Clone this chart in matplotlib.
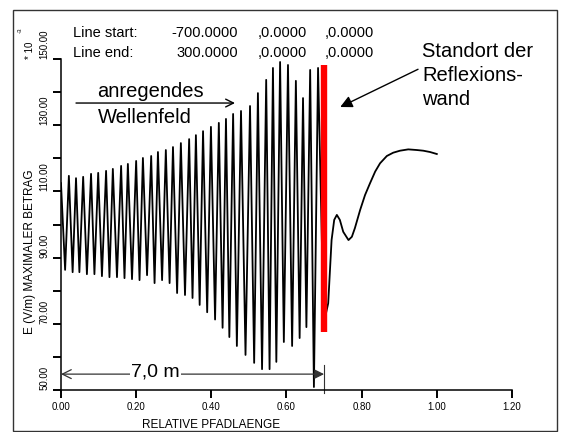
import matplotlib
matplotlib.use("Agg")
import matplotlib.pyplot as plt
from matplotlib.patches import Rectangle

plt.rcParams["font.family"] = ["Liberation Sans", "DejaVu Sans"]

# start of the wave train
start_x = 0.0
start_y = 112.5

# troughs (minima) of the exciting wave
trough_x = [0.011, 0.031, 0.049, 0.069, 0.089, 0.109, 0.129, 0.149, 0.169, 0.189,
            0.209, 0.229, 0.249, 0.269, 0.289, 0.309, 0.330, 0.350, 0.369, 0.389,
            0.410, 0.430, 0.448, 0.468, 0.491, 0.514, 0.535, 0.555, 0.573, 0.593,
            0.615, 0.635, 0.653, 0.673]
trough_y = [86.3, 85.6, 85.6, 85.0, 85.0, 84.4, 84.1, 84.1, 83.8, 83.5,
            83.2, 84.7, 82.3, 83.2, 82.3, 79.3, 78.7, 77.8, 75.7, 73.5,
            71.3, 68.8, 66.0, 63.3, 60.6, 58.2, 56.3, 56.3, 58.5, 64.5,
            63.3, 65.7, 69.0, 50.9]

# peaks (maxima)
peak_x = [0.021, 0.040, 0.059, 0.080, 0.099, 0.120, 0.138, 0.160, 0.178, 0.200,
          0.218, 0.240, 0.258, 0.279, 0.298, 0.319, 0.341, 0.359, 0.378, 0.399,
          0.420, 0.439, 0.458, 0.479, 0.503, 0.524, 0.546, 0.564, 0.583, 0.604,
          0.625, 0.644, 0.663, 0.684]
peak_y = [114.7, 114.0, 114.4, 115.3, 115.6, 116.2, 116.8, 117.7, 118.3, 119.2,
          120.1, 120.7, 121.9, 122.5, 123.4, 124.6, 125.8, 127.0, 128.2, 129.5,
          130.7, 131.9, 133.4, 134.3, 135.8, 139.7, 143.7, 147.3, 149.1, 148.2,
          143.4, 138.2, 146.7, 147.3]

# field behind the reflecting wall
tail_x = [0.699, 0.711, 0.720, 0.727, 0.734, 0.742, 0.751, 0.765, 0.774, 0.782,
          0.796, 0.809, 0.822, 0.836, 0.849, 0.867, 0.884, 0.902, 0.924, 0.947,
          0.964, 0.982, 1.000]
tail_y = [70.0, 76.2, 95.3, 101.4, 102.9, 101.4, 97.8, 95.3, 96.3, 98.9,
          104.4, 108.9, 112.4, 116.0, 118.5, 120.7, 121.7, 122.3, 122.7, 122.5,
          122.3, 121.9, 121.3]

wall_x = 0.70
wall_y = [67.5, 148.2]
dist_y = 54.8

x_ticks = [0.0, 0.2, 0.4, 0.6, 0.8, 1.0, 1.2]
y_major = [50, 70, 90, 110, 130, 150]
y_minor = [60, 80, 100, 120, 140]

xs = [start_x]
ys = [start_y]
for tx, ty, px, py in zip(trough_x, trough_y, peak_x, peak_y):
    xs += [tx, px]
    ys += [ty, py]
xs += tail_x
ys += tail_y

fig = plt.figure(figsize=(5.62, 4.32), dpi=100)
ax = fig.add_axes([0.1085, 0.0972, 0.8025, 0.7662])

ax.plot(xs, ys, color="black", lw=1.3, zorder=3)
ax.plot([wall_x, wall_x], wall_y, color="#ff0000", lw=4.6, solid_capstyle="butt", zorder=4)

ax.set_xlim(0, 1.2)
ax.set_ylim(50, 150)
for s in ["top", "right"]:
    ax.spines[s].set_visible(False)
for s in ["left", "bottom"]:
    ax.spines[s].set_linewidth(1.1)

ax.set_xticks(x_ticks, [f"{v:.2f}" for v in x_ticks])
ax.set_yticks(y_major, [f"{v:.2f}" for v in y_major])
ax.set_yticks(y_minor, minor=True)
ax.tick_params(which="both", direction="out", length=5.5, width=1.4, labelsize=7, pad=3)
for lab in ax.get_yticklabels():
    lab.set_rotation(90)
    lab.set_rotation_mode("anchor")
    lab.set_ha("left")
    lab.set_va("bottom")

ax.set_xlabel("RELATIVE PFADLAENGE", fontsize=8.5)
ax.xaxis.set_label_coords(0.333, -0.106)
ax.xaxis.label.set_va("center")
ax.set_ylabel("E (V/m) MAXIMALER BETRAG", fontsize=8.5)
ax.yaxis.set_label_coords(-0.069, 0.417)
ax.yaxis.label.set_va("center")

# exponent marker
fig.text(0.053, 0.883, "* 10", rotation=90, fontsize=7, ha="center", va="center")
fig.text(0.036, 0.931, "-3", rotation=90, fontsize=4.5, ha="center", va="center")

# header lines
for yy, name, val in [(0.9144, "Line start:", "-700.0000"), (0.8681, "Line end:", "300.0000")]:
    fig.text(0.130, yy, name, fontsize=10.5, va="baseline")
    fig.text(0.4235, yy, val, fontsize=10.5, va="baseline", ha="right")
    fig.text(0.459, yy, ",0.0000", fontsize=10.5, va="baseline")
    fig.text(0.577, yy, ",0.0000", fontsize=10.5, va="baseline")

# exciting wave annotation
ax.annotate("", xy=(0.463, 136.7), xytext=(0.040, 136.7),
            arrowprops=dict(arrowstyle="->", lw=1.0, color="black",
                            mutation_scale=14, shrinkA=0, shrinkB=0))
ax.text(0.097, 138.5, "anregendes", fontsize=14.5, va="baseline", zorder=5)
ax.text(0.097, 130.7, "Wellenfeld", fontsize=14.5, va="baseline", zorder=5)

# wall annotation
fig.text(0.751, 0.868, "Standort der", fontsize=14.5, va="baseline")
fig.text(0.751, 0.8125, "Reflexions-", fontsize=14.5, va="baseline")
fig.text(0.751, 0.757, "wand", fontsize=14.5, va="baseline")
ax.annotate("", xy=(0.743, 135.5), xytext=(0.95, 146.9),
            arrowprops=dict(arrowstyle="-|>", lw=1.0, color="black",
                            mutation_scale=18, shrinkA=0, shrinkB=0),
            annotation_clip=False)

# distance dimension
ax.annotate("", xy=(0.0, dist_y), xytext=(0.25, dist_y),
            arrowprops=dict(arrowstyle="->", lw=0.9, color="#333333",
                            mutation_scale=16, shrinkA=0, shrinkB=0))
ax.annotate("", xy=(wall_x, dist_y), xytext=(0.25, dist_y),
            arrowprops=dict(arrowstyle="-|>", lw=0.9, color="#333333",
                            mutation_scale=14, shrinkA=0, shrinkB=0))
ax.plot([wall_x, wall_x], [57.6, 49.0], color="#333333", lw=0.8, clip_on=False)
ax.text(0.2515, 54.0, "7,0 m", fontsize=14, ha="center", va="baseline", zorder=6,
        bbox=dict(facecolor="white", edgecolor="none", pad=0.5))

# outer frame
fig.patches.append(Rectangle((0.0231, 0.0023), 0.968, 0.9745, transform=fig.transFigure,
                             fill=False, edgecolor="#333333", lw=1.0))

fig.savefig("out.png", dpi=100)
